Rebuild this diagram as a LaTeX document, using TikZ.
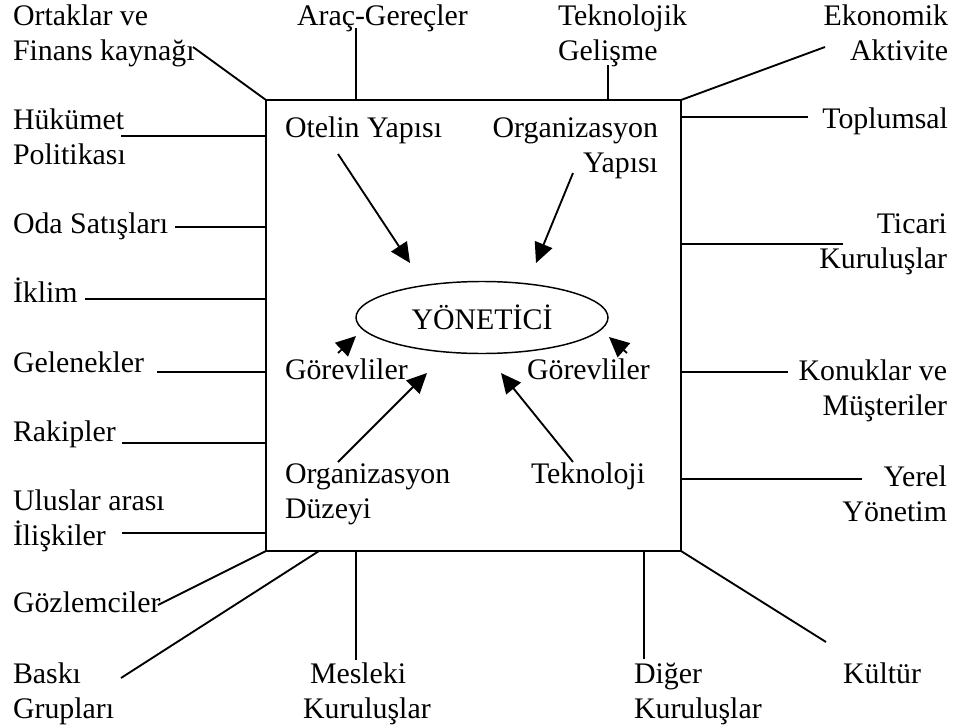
\documentclass[tikz,border=0pt]{standalone}
\usepackage{fontspec}
\setmainfont{Liberation Serif}
\usetikzlibrary{arrows.meta,shapes.geometric}
% stacked label lines; the baseline is that of the first line
\newcommand{\labtab}[2]{\begin{tabular}[t]{@{}#1@{}}#2\end{tabular}}

\begin{document}
\begin{tikzpicture}[x=0.75pt,y=-0.75pt,
  every node/.style={inner sep=0pt,outer sep=0pt,font=\fontsize{22.4}{26.25}\selectfont},
  link/.style={line width=1.4pt},
  arr/.style={line width=1.4pt,-{Triangle[length=15pt,width=14pt]}},
  lbl/.style={anchor=base west},
  rlbl/.style={anchor=base east}]
\useasboundingbox (0,0) rectangle (957,728);

% the hotel frame and the manager
\node[draw,line width=1.4pt,minimum width=311.25pt,minimum height=338.25pt] (box) at (473.5,325.5) {};
\node[draw,ellipse,line width=1.1pt,minimum width=189pt,minimum height=54pt] (mgr) at (482,317.5) {YÖNETİCİ};

% outer environment labels
\node[lbl] (ortak) at (13,26) {\labtab{l}{Ortaklar ve\\Finans kaynağı}};
\node[lbl] (hukumet) at (13,129) {\labtab{l}{Hükümet\\Politikası}};
\node[lbl] (oda) at (13,233) {Oda Satışları};
\node[lbl] (iklim) at (13,302) {İklim};
\node[lbl] (gelenek) at (13,372) {Gelenekler};
\node[lbl] (rakip) at (13,441) {Rakipler};
\node[lbl] (ulus) at (13,510) {\labtab{l}{Uluslar arası\\İlişkiler}};
\node[lbl] (gozlem) at (13,612) {Gözlemciler};
\node[lbl] (baski) at (13,683) {\labtab{l}{Baskı\\Grupları}};
\node[lbl] (arac) at (297,25) {Araç-Gereçler};
\node[lbl] (teknolojik) at (558,26) {\labtab{l}{Teknolojik\\Gelişme}};
\node[rlbl] (ekonomik) at (948,26) {\labtab{r}{Ekonomik\\Aktivite}};
\node[rlbl] (toplum) at (948,128) {Toplumsal};
\node[rlbl] (ticari) at (947,233) {\labtab{r}{Ticari\\Kuruluşlar}};
\node[rlbl] (konuk) at (947,380) {\labtab{r}{Konuklar ve\\Müşteriler}};
\node[rlbl] (yerel) at (947,486) {\labtab{r}{Yerel\\Yönetim}};
\node[lbl] (meslek) at (303,683) {\labtab{l}{\hspace{5.25pt}Mesleki\\Kuruluşlar}};
\node[lbl] (diger) at (634,683) {\labtab{l}{Diğer\\Kuruluşlar}};
\node[lbl] (kultur) at (843,683) {Kültür};

% inner factors
\node[lbl] (otel) at (285,137) {Otelin Yapısı};
\node[rlbl] (orgyap) at (658,137) {\labtab{r}{Organizasyon\\Yapısı}};
\node[lbl] (gorL) at (285,379) {Görevliler};
\node[lbl] (gorR) at (527,379) {Görevliler};
\node[lbl] (orgduz) at (285,483) {\labtab{l}{Organizasyon\\Düzeyi}};
\node[lbl] (tekno) at (531,483) {Teknoloji};

% line ends beside the labels
\coordinate (ortakE) at (193,47);
\coordinate (aracE) at (356,28);
\coordinate (teknolojikE) at (608,65);
\coordinate (ekonomikE) at (825,47);
\coordinate (toplumE) at (808,117);
\coordinate (hukumetE) at (121,136);
\coordinate (odaE) at (175,227);
\coordinate (iklimE) at (85,299);
\coordinate (gelenekE) at (157,372);
\coordinate (rakipE) at (122,443);
\coordinate (ulusE) at (122,533);
\coordinate (gozlemE) at (158,605);
\coordinate (baskiE) at (121,678);
\coordinate (meslekE) at (356,660);
\coordinate (digerE) at (644,659);
\coordinate (kulturE) at (826,642);
\coordinate (ticariE) at (843,244);
\coordinate (konukE) at (788,372);
\coordinate (yerelE) at (862,479);

% line ends on the frame
\coordinate (bOrtak) at (266,100);
\coordinate (bArac) at (356,100);
\coordinate (bTeknolojik) at (608,100);
\coordinate (bEkonomik) at (681,100);
\coordinate (bToplum) at (681,117);
\coordinate (bHukumet) at (266,136);
\coordinate (bOda) at (266,227);
\coordinate (bIklim) at (266,299);
\coordinate (bGelenek) at (266,372);
\coordinate (bRakip) at (266,443);
\coordinate (bUlus) at (266,533);
\coordinate (bGozlem) at (266,551);
\coordinate (bBaski) at (319,551);
\coordinate (bMeslek) at (356,551);
\coordinate (bDiger) at (644,551);
\coordinate (bKultur) at (681,551);
\coordinate (bTicari) at (681,244);
\coordinate (bKonuk) at (681,372);
\coordinate (bYerel) at (681,479);

\foreach \a/\b in {ortakE/bOrtak,aracE/bArac,teknolojikE/bTeknolojik,ekonomikE/bEkonomik,
  toplumE/bToplum,hukumetE/bHukumet,odaE/bOda,iklimE/bIklim,gelenekE/bGelenek,rakipE/bRakip,
  ulusE/bUlus,gozlemE/bGozlem,baskiE/bBaski,meslekE/bMeslek,digerE/bDiger,kulturE/bKultur,
  ticariE/bTicari,konukE/bKonuk,yerelE/bYerel}
  \draw[link] (\a) -- (\b);

% arrows toward the manager
\coordinate (otelT) at (338,154);   \coordinate (otelH) at (410,263);
\coordinate (orgyapT) at (573,173); \coordinate (orgyapH) at (536,263);
\coordinate (gorLT) at (338,353);   \coordinate (gorLH) at (356,336);
\coordinate (gorRT) at (627,353);   \coordinate (gorRH) at (609,337);
\coordinate (orgduzT) at (338,462); \coordinate (orgduzH) at (427,373);
\coordinate (teknoT) at (573,462);  \coordinate (teknoH) at (501,373);

\foreach \a/\b in {otelT/otelH,orgyapT/orgyapH,gorLT/gorLH,gorRT/gorRH,orgduzT/orgduzH,teknoT/teknoH}
  \draw[arr] (\a) -- (\b);
\end{tikzpicture}
\end{document}
